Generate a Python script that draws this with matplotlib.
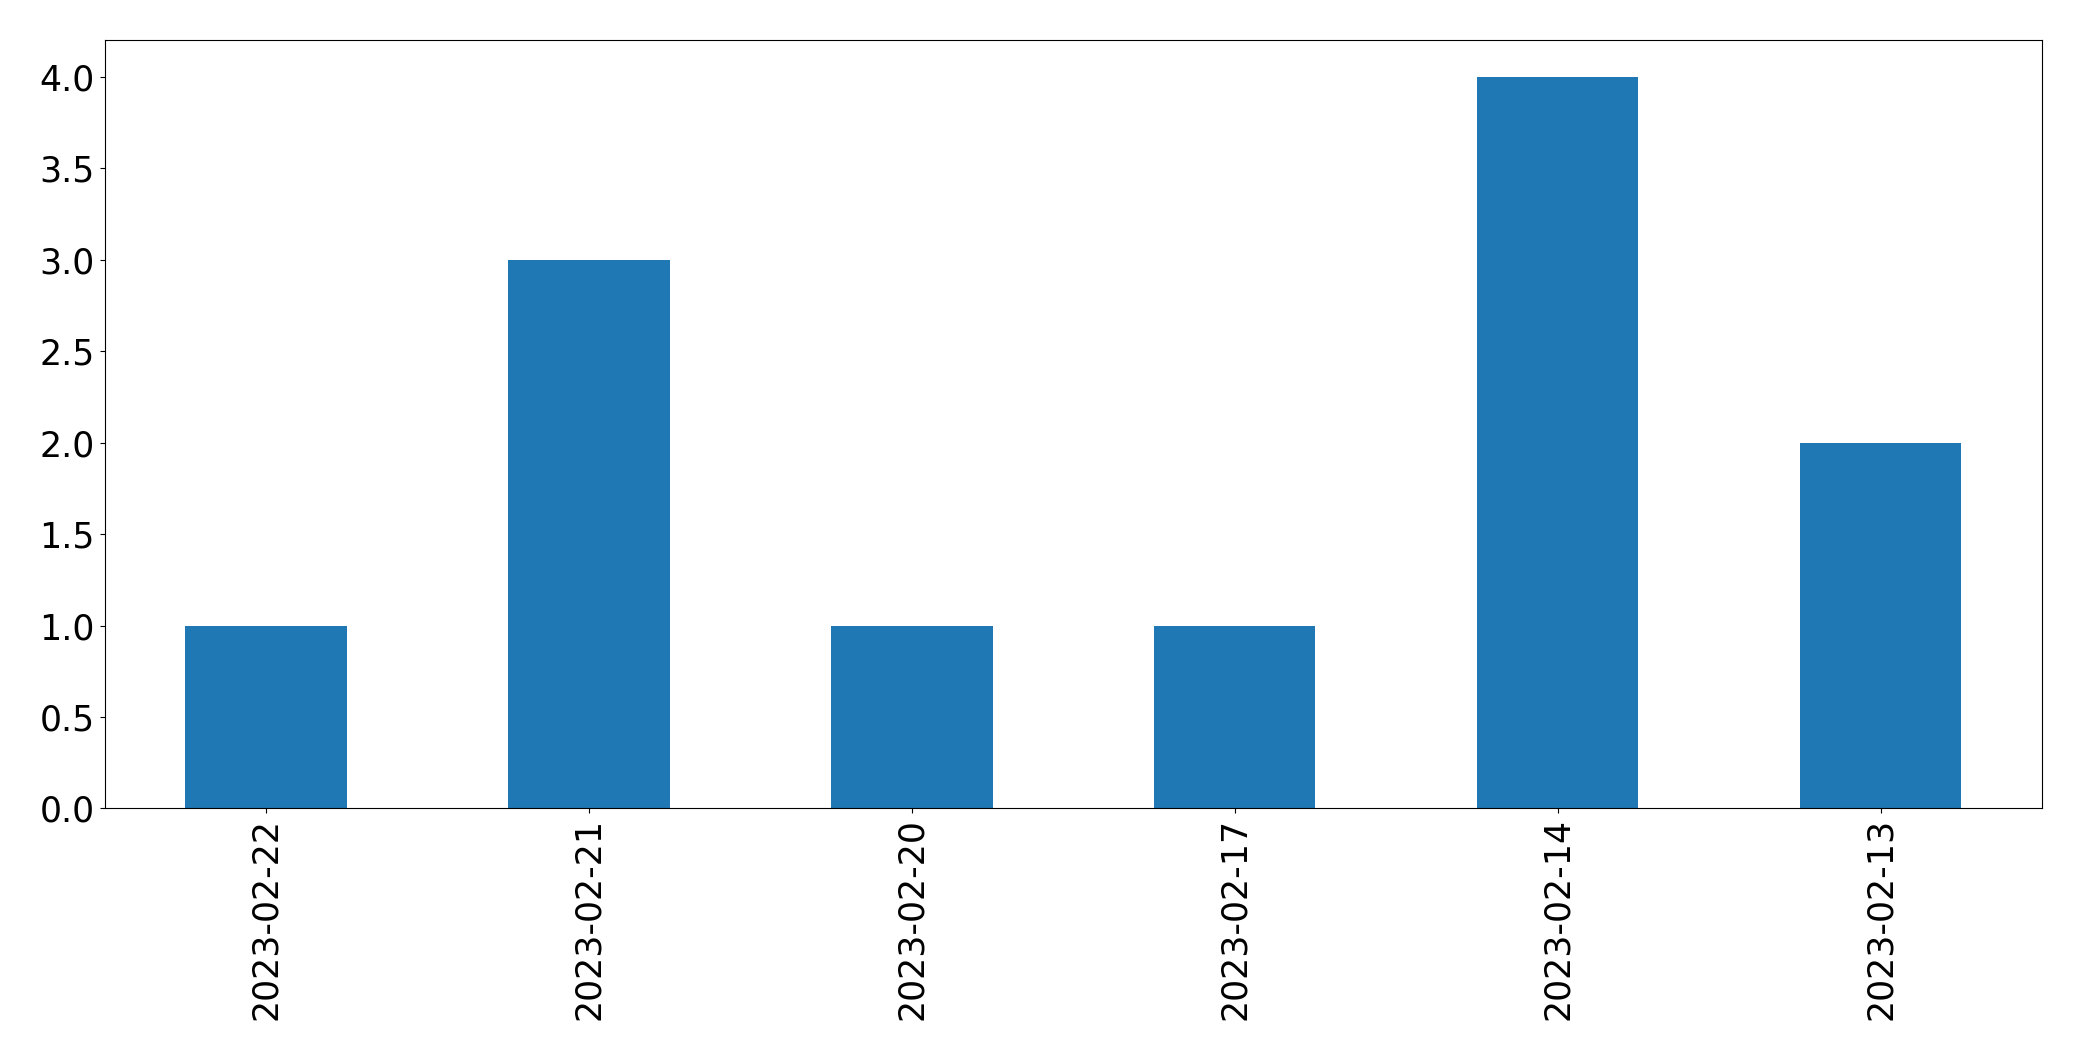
import matplotlib
matplotlib.use('Agg')
import matplotlib.pyplot as plt
import numpy as np

dates = ['2023-02-22', '2023-02-21', '2023-02-20', '2023-02-17', '2023-02-14', '2023-02-13']
counts = [1, 3, 1, 1, 4, 2]

fig = plt.figure(figsize=(20.82, 10.61), dpi=100)
ax = fig.add_axes([0.0502, 0.238, 0.9306, 0.724])
x = np.arange(len(dates))
ax.bar(x, counts, width=0.5, color='#1f77b4')
ax.set_xlim(-0.5, len(dates) - 0.5)
ax.set_xticks(x)
ax.set_xticklabels(dates, rotation=90)
ax.tick_params(labelsize=25)
fig.savefig('out.png', dpi=100)
